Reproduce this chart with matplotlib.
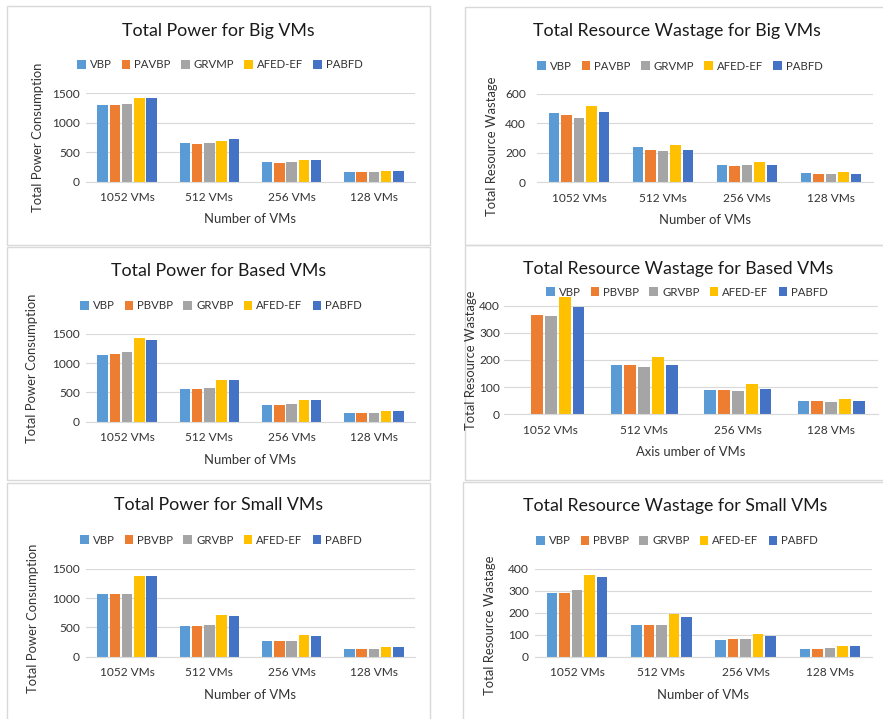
import matplotlib
matplotlib.use('Agg')
import matplotlib.pyplot as plt
from matplotlib.patches import Rectangle
import numpy as np

# ----------------------------------------------------------DATA----------------------------------------------------------#
categories = ['1052 VMs', '512 VMs', '256 VMs', '128 VMs']
colors = ['#5B9BD5', '#ED7D31', '#A5A5A5', '#FFC000', '#4472C4']

big_names = ['VBP', 'PAVBP', 'GRVMP', 'AFED-EF', 'PABFD']
pb_names = ['VBP', 'PBVBP', 'GRVBP', 'AFED-EF', 'PABFD']

# Power, big VMs (one list per algorithm, values per category)
power_big_vbp = [1300, 650, 332, 174]
power_big_pavbp = [1290, 640, 320, 170]
power_big_grvmp = [1315, 650, 335, 176]
power_big_afed = [1410, 696, 370, 185]
power_big_pabfd = [1410, 720, 370, 185]

# Resource wastage, big VMs
waste_big_vbp = [473, 238, 120, 61]
waste_big_pavbp = [455, 219, 113, 57]
waste_big_grvmp = [439, 215, 117, 59]
waste_big_afed = [520, 252, 136, 70]
waste_big_pabfd = [475, 219, 117, 57]

# Power, based VMs
power_based_vbp = [1141, 553, 279, 148]
power_based_pbvbp = [1152, 553, 279, 148]
power_based_grvbp = [1192, 582, 297, 148]
power_based_afed = [1432, 707, 371, 177]
power_based_pabfd = [1397, 707, 365, 183]

# Resource wastage, based VMs (VBP has no value for 1052 VMs)
waste_based_vbp = [0, 180, 90, 48]
waste_based_pbvbp = [364, 180, 90, 48]
waste_based_grvbp = [363, 175, 87, 44]
waste_based_afed = [431, 210, 110, 55]
waste_based_pabfd = [396, 180, 93, 48]

# Power, small VMs
power_small_vbp = [1068, 528, 261, 125]
power_small_pbvbp = [1068, 528, 273, 125]
power_small_grvbp = [1074, 534, 273, 125]
power_small_afed = [1369, 710, 364, 170]
power_small_pabfd = [1369, 693, 347, 170]

# Resource wastage, small VMs
waste_small_vbp = [289, 145, 74, 35]
waste_small_pbvbp = [289, 145, 79, 35]
waste_small_grvbp = [302, 145, 79, 39]
waste_small_afed = [371, 194, 105, 50]
waste_small_pabfd = [364, 180, 94, 47]

# ----------------------------------------------------------LAYOUT----------------------------------------------------------#
W, H = 883, 719
plt.rcParams['font.family'] = ['Lato', 'DejaVu Sans']
fig = plt.figure(figsize=(W / 100, H / 100), dpi=100)
fig.patch.set_facecolor('white')

TXT = '#333333'
GRID = '#D9D9D9'


def fx(x):
    return x / W


def fy(y):
    return 1 - y / H


def frame(x0, y0, x1, y1):
    fig.patches.append(Rectangle((fx(x0), fy(y1)), fx(x1 - x0), (y1 - y0) / H,
                                 transform=fig.transFigure, fill=False,
                                 edgecolor='#D9D9D9', linewidth=1.0))


def panel(series, names, title, ylabel, xlabel, box, ymax, yticks, ypad, title_xy, leg_xy, ylab_xy, xlab_xy):
    left, top, right, bottom = box
    ax = fig.add_axes([fx(left), fy(bottom), fx(right - left), (bottom - top) / H])
    x = np.arange(len(categories))
    slot = 0.149
    bars = []
    for i, vals in enumerate(series):
        b = ax.bar(x + (i - 2) * slot, vals, 0.125, color=colors[i], label=names[i], zorder=3)
        bars.append(b)
    ax.set_xlim(-0.5, len(categories) - 0.5)
    ax.set_ylim(0, ymax)
    ax.set_yticks(yticks)
    ax.set_xticks(x)
    ax.set_xticklabels(categories)
    ax.tick_params(axis='both', length=0, labelsize=8.6, colors=TXT)
    ax.tick_params(axis='x', pad=7.5)
    ax.tick_params(axis='y', pad=ypad * 0.72)
    ax.yaxis.grid(True, color=GRID, linewidth=0.8, zorder=0)
    for s in ['top', 'right', 'left']:
        ax.spines[s].set_visible(False)
    ax.spines['bottom'].set_color(GRID)
    ax.spines['bottom'].set_zorder(4)
    ax.set_facecolor('none')
    fig.text(fx(title_xy[0]), fy(title_xy[1]), title, ha='center', va='center', fontsize=12.8, color='#1a1a1a')
    fig.text(fx(ylab_xy[0]), fy(ylab_xy[1]), ylabel, ha='center', va='center', rotation=90, fontsize=9.4, color=TXT)
    fig.text(fx(xlab_xy[0]), fy(xlab_xy[1]), xlabel, ha='center', va='center', fontsize=9.4, color=TXT)
    fig.legend(handles=bars, loc='center', bbox_to_anchor=(fx(leg_xy[0]), fy(leg_xy[1])), ncol=5,
               frameon=False, fontsize=8.2, handlelength=0.75, handleheight=0.75, handletextpad=0.35,
               columnspacing=0.9, labelcolor=TXT, borderpad=0)
    return ax


# Panel borders
frame(7, 6, 430, 245)
frame(465, 7, 890, 245)
frame(7, 247, 430, 480)
frame(465, 245, 890, 480)
frame(7, 483, 430, 725)
frame(463, 482, 890, 725)

panel([power_big_vbp, power_big_pavbp, power_big_grvmp, power_big_afed, power_big_pabfd], big_names,
      'Total Power for Big VMs', 'Total Power Consumption', 'Number of VMs',
      (86, 93, 415, 182), 1500, [0, 500, 1000, 1500], 6,
      (218, 31), (220, 65), (38, 137), (250, 219))

panel([waste_big_vbp, waste_big_pavbp, waste_big_grvmp, waste_big_afed, waste_big_pabfd], big_names,
      'Total Resource Wastage for Big VMs', 'Total Resource Wastage', 'Number of VMs',
      (537, 94, 873, 182.3), 600, [0, 200, 400, 600], 11,
      (677, 31), (680, 66), (492, 146), (705, 220))

panel([power_based_vbp, power_based_pbvbp, power_based_grvbp, power_based_afed, power_based_pabfd], pb_names,
      'Total Power for Based VMs', 'Total Power Consumption', 'Number of VMs',
      (86, 334, 415, 421.7), 1500, [0, 500, 1000, 1500], 6,
      (219, 271), (221, 306), (32, 368), (250, 460))

panel([waste_based_vbp, waste_based_pbvbp, waste_based_grvbp, waste_based_afed, waste_based_pabfd], pb_names,
      'Total Resource Wastage for Based VMs', 'Total Resource Wastage', 'Axis umber of VMs',
      (504, 294.8, 878, 414.3), 440, [0, 100, 200, 300, 400], 4,
      (678, 269), (687, 292), (471, 360), (691, 452))

panel([power_small_vbp, power_small_pbvbp, power_small_grvbp, power_small_afed, power_small_pabfd], pb_names,
      'Total Power for Small VMs', 'Total Power Consumption', 'Number of VMs',
      (86, 568.7, 415, 656.7), 1500, [0, 500, 1000, 1500], 6,
      (219, 505), (221, 540), (33, 618), (250, 695))

panel([waste_small_vbp, waste_small_pbvbp, waste_small_grvbp, waste_small_afed, waste_small_pabfd], pb_names,
      'Total Resource Wastage for Small VMs', 'Total Resource Wastage', 'Number of VMs',
      (535, 568.7, 872, 656.7), 400, [0, 100, 200, 300, 400], 6,
      (675, 506), (677, 541), (490, 625), (703, 695))

fig.savefig('out.png', dpi=100)
